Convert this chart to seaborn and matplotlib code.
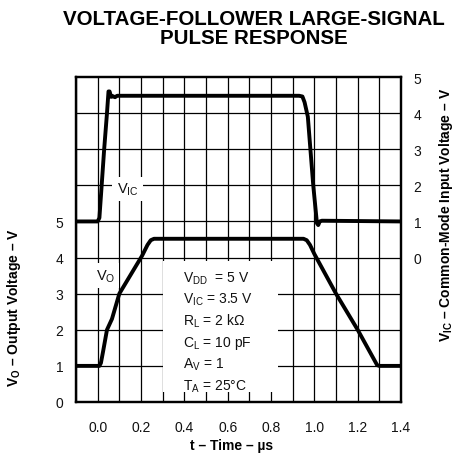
import matplotlib
matplotlib.use("Agg")
import matplotlib.pyplot as plt
import seaborn as sns
import numpy as np
import pandas as pd
from matplotlib.patches import Rectangle

# ---- data ----
t_o = [-0.1, 0.008, 0.015, 0.025, 0.043, 0.066, 0.1, 0.15, 0.205, 0.23, 0.245, 0.26, 0.275,
       0.95, 0.965, 0.98, 1.0, 1.1, 1.2, 1.29, 1.3, 1.4]
v_o = [1.0, 1.0, 1.08, 1.4, 2.0, 2.3, 3.0, 3.5, 4.05, 4.35, 4.48, 4.52, 4.52,
       4.52, 4.48, 4.35, 4.1, 3.0, 2.0, 1.02, 1.0, 1.0]

t_ic = [-0.1, 0.0, 0.008, 0.015, 0.03, 0.043, 0.05, 0.055, 0.062, 0.07, 0.08, 0.09,
        0.93, 0.945, 0.955, 0.97, 0.995, 1.012, 1.018, 1.025, 1.035, 1.4]
v_ic = [1.0, 1.0, 1.1, 1.7, 3.0, 4.0, 4.6, 4.6, 4.45, 4.47, 4.44, 4.48,
        4.48, 4.46, 4.3, 3.9, 2.0, 0.95, 0.9, 1.0, 1.02, 1.0]

x_ticks = [0.0, 0.2, 0.4, 0.6, 0.8, 1.0, 1.2, 1.4]
x_tick_labels = ["0.0", "0.2", "0.4", "0.6", "0.8", "1.0", "1.2", "1.4"]
y_left_ticks = [0, 1, 2, 3, 4, 5]
y_right_ticks = [0, 1, 2, 3, 4, 5]

title = "VOLTAGE-FOLLOWER LARGE-SIGNAL\nPULSE RESPONSE"
params = ["V$_{\\mathrm{DD}}$  = 5 V", "V$_{\\mathrm{IC}}$ = 3.5 V", "R$_{\\mathrm{L}}$ = 2 kΩ",
          "C$_{\\mathrm{L}}$ = 10 pF", "A$_{\\mathrm{V}}$ = 1", "T$_{\\mathrm{A}}$ = 25°C"]

# ---- style ----
sns.set_style("white")
plt.rcParams['font.family'] = ['Liberation Sans', 'DejaVu Sans']
plt.rcParams['mathtext.fontset'] = 'custom'
plt.rcParams['mathtext.rm'] = 'Liberation Sans'
plt.rcParams['mathtext.it'] = 'Liberation Sans:italic'
plt.rcParams['mathtext.bf'] = 'Liberation Sans:bold'
plt.rcParams['text.color'] = 'black'
plt.rcParams['axes.labelcolor'] = 'black'
plt.rcParams['xtick.color'] = 'black'
plt.rcParams['ytick.color'] = 'black'

fig = plt.figure(figsize=(4.61, 4.56), dpi=100)
ax = fig.add_axes([76/461, 53/456, 325/461, 325/456])
ax.set_xlim(-0.1, 1.4)
ax.set_ylim(0, 9)
ax.set_xticks(x_ticks)
ax.set_xticklabels(x_tick_labels)
ax.set_xticks(np.arange(-0.1, 1.35, 0.2), minor=True)
ax.set_yticks(y_left_ticks)
ax.set_yticks([6, 7, 8], minor=True)
ax.set_axisbelow(True)
ax.grid(True, which='both', color='black', lw=0.9)
ax.tick_params(which='both', length=0, labelsize=10, colors='#111111')
ax.tick_params(axis='x', pad=13)
ax.tick_params(axis='y', pad=9)
for s in ax.spines.values():
    s.set_linewidth(1.6)
    s.set_color('black')

ax2 = ax.twinx()
ax2.set_ylim(-4, 5)
ax2.set_yticks(y_right_ticks)
ax2.tick_params(length=0, labelsize=10, pad=9, colors='#111111')
for s in ax2.spines.values():
    s.set_linewidth(1.6)
    s.set_color('black')

sns.lineplot(x=t_o, y=v_o, ax=ax, color='black', lw=2.8, estimator=None)
sns.lineplot(x=t_ic, y=v_ic, ax=ax2, color='black', lw=2.8, estimator=None)

# parameter box
ax2.add_patch(Rectangle((0.30, -3.72), 0.532, 3.62, facecolor='white', edgecolor='none', zorder=1))
y0 = -0.55
for i, p in enumerate(params):
    ax2.text(0.395, y0 - i * 0.6, p, fontsize=10, ha='left', va='center', zorder=3, color='#111111')

ax2.text(0.0875, 1.9, "V$_{\\mathrm{IC}}$", fontsize=10.5, ha='left', va='center', zorder=3,
         color='#111111', bbox=dict(facecolor='white', edgecolor='none', pad=3))
ax2.text(-0.01, -0.5, "V$_{\\mathrm{O}}$", fontsize=10.5, ha='left', va='center', zorder=3,
         color='#111111', bbox=dict(facecolor='white', edgecolor='none', pad=3))

ax.set_xlabel("t – Time – µs", fontsize=10, fontweight='bold', color='black')
ax.xaxis.set_label_coords(0.48, -0.112)
ax.set_ylabel("V$_{\\mathbf{O}}$ – Output Voltage – V", fontsize=10, fontweight='bold', color='black')
ax.yaxis.set_label_coords(-0.163, 0.295)
ax2.set_ylabel("V$_{\\mathbf{IC}}$ – Common-Mode Input Voltage – V", fontsize=10, fontweight='bold',
               color='black')
ax2.yaxis.set_label_coords(1.11, 0.58)

fig.text(254/461, 1 - 10/456, title, ha='center', va='top', fontsize=14.8, fontweight='bold',
         linespacing=1.0, color='black')

fig.savefig("out.png", dpi=100)
